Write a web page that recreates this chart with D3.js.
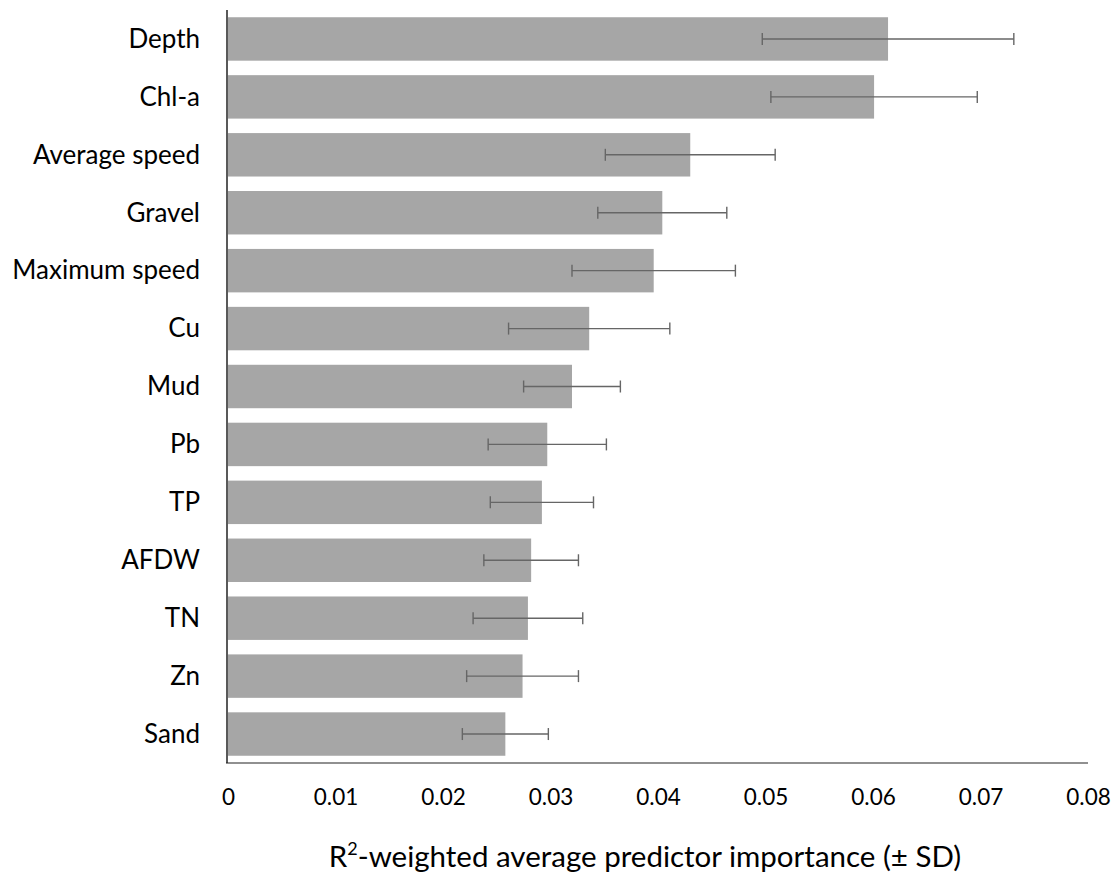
<!DOCTYPE html>
<html>
<head>
<meta charset="utf-8">
<script src="https://cdn.jsdelivr.net/npm/d3@7"></script>
<style>
  html, body { margin: 0; padding: 0; background: #fff; }
  svg { display: block; }
  text { font-family: Lato, "Open Sans", sans-serif; fill: #000; }
</style>
</head>
<body>
<svg id="chart" width="1120" height="877"></svg>
<script>
// Predictors, ordered from most to least important
const predictors = ["Depth", "Chl-a", "Average speed", "Gravel", "Maximum speed", "Cu",
                    "Mud", "Pb", "TP", "AFDW", "TN", "Zn", "Sand"];
// R²-weighted average predictor importance
const importance = [0.0614, 0.0601, 0.0430, 0.0404, 0.0396, 0.0336,
                    0.0320, 0.0297, 0.0292, 0.0282, 0.0279, 0.0274, 0.0258];
// Standard deviation of importance
const sd = [0.0117, 0.0096, 0.0079, 0.0060, 0.0076, 0.0075,
            0.0045, 0.0055, 0.0048, 0.0044, 0.0051, 0.0052, 0.0040];
const xTicks = [0, 0.01, 0.02, 0.03, 0.04, 0.05, 0.06, 0.07, 0.08];

const svg = d3.select("#chart");
const plotLeft = 228, plotRight = 1088, plotTop = 10, plotBottom = 763;

const x = d3.scaleLinear().domain([0, 0.08]).range([plotLeft, plotRight]);
const y = d3.scaleBand().domain(predictors).range([plotTop, plotBottom])
  .paddingInner(0.25).paddingOuter(0.125);

const rows = predictors.map((p, i) => ({ name: p, value: importance[i], sd: sd[i] }));

// Bars
svg.append("g").selectAll("rect").data(rows).join("rect")
  .attr("x", x(0))
  .attr("y", d => y(d.name))
  .attr("width", d => x(d.value) - x(0))
  .attr("height", y.bandwidth())
  .attr("fill", "#a6a6a6");

// Error bars (± SD)
const err = svg.append("g").attr("stroke", "#666").attr("stroke-width", 1.4).attr("fill", "none");
rows.forEach(d => {
  const cy = y(d.name) + y.bandwidth() / 2;
  const x0 = x(d.value - d.sd), x1 = x(d.value + d.sd);
  err.append("line").attr("x1", x0).attr("x2", x1).attr("y1", cy).attr("y2", cy);
  err.append("line").attr("x1", x0).attr("x2", x0).attr("y1", cy - 6).attr("y2", cy + 6);
  err.append("line").attr("x1", x1).attr("x2", x1).attr("y1", cy - 6).attr("y2", cy + 6);
});

// Category axis
const yAxis = svg.append("g").attr("transform", `translate(${plotLeft - 1},0)`)
  .call(d3.axisLeft(y).tickSize(0).tickPadding(27));
yAxis.select(".domain").attr("stroke", "#595959").attr("stroke-width", 2)
  .attr("d", `M0,${plotTop}V${plotBottom}`);
yAxis.selectAll("text").attr("font-size", 26).attr("font-family", "Lato, sans-serif")
  .attr("fill", "#1a1a1a").attr("dy", "0.34em");

// Value axis
const xAxis = svg.append("g").attr("transform", `translate(0,${plotBottom})`)
  .call(d3.axisBottom(x).tickValues(xTicks).tickFormat(d => String(+d.toFixed(2))).tickSize(0).tickPadding(26));
xAxis.select(".domain").attr("stroke", "#222").attr("stroke-width", 1.2)
  .attr("d", `M${plotLeft - 2},0H${plotRight}`);
xAxis.selectAll("text").attr("font-size", 22.5).attr("font-family", "Lato, sans-serif")
  .attr("fill", "#1a1a1a");

// Axis title
const title = svg.append("text")
  .attr("x", 645).attr("y", 867)
  .attr("text-anchor", "middle")
  .attr("font-size", 29.5)
  .attr("fill", "#1a1a1a");
title.append("tspan").text("R");
title.append("tspan").attr("font-size", 18).attr("dy", -12).text("2");
title.append("tspan").attr("dy", 12).text("-weighted average predictor importance (± SD)");
</script>
</body>
</html>
